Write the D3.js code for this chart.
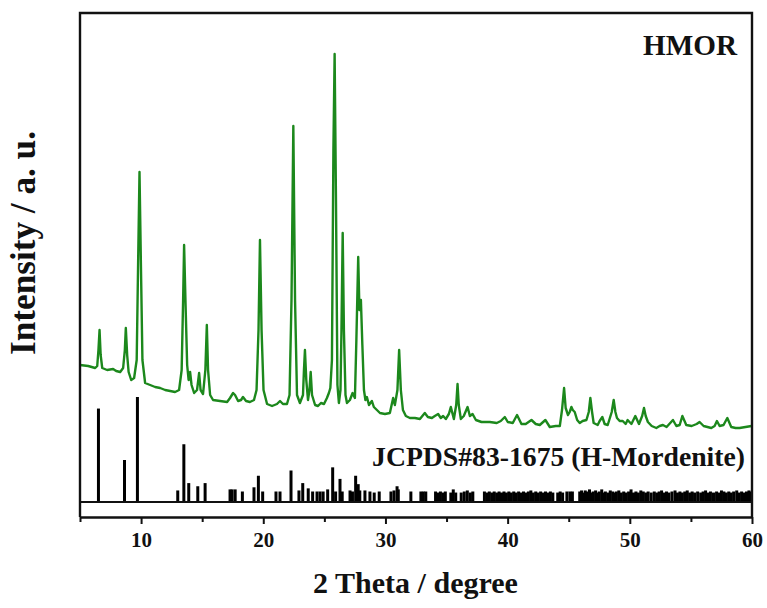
<!DOCTYPE html>
<html>
<head>
<meta charset="utf-8">
<script src="https://cdn.jsdelivr.net/npm/d3@7"></script>
<style>
  html, body { margin: 0; padding: 0; background: #fff; }
  svg { display: block; }
  text { font-family: "Liberation Serif", "Times New Roman", "DejaVu Serif", serif; font-weight: bold; fill: #111; }
</style>
</head>
<body>
<svg id="chart" width="767" height="608"></svg>
<script>
// ---- data ----
// measured XRD pattern: 2θ (degree) and intensity (a.u.)
const twoTheta = [5.0,5.67,6.24,6.41,6.51,6.6,6.69,6.82,7.22,7.71,7.96,8.29,8.53,8.67,8.75,8.86,8.98,9.19,9.43,9.64,9.76,9.87,9.98,10.11,10.33,10.74,11.15,11.56,11.97,12.38,12.78,13.11,13.32,13.44,13.52,13.63,13.77,13.89,14.01,14.13,14.34,14.58,14.75,14.87,15.07,15.26,15.38,15.48,15.65,15.89,16.46,17.04,17.28,17.53,17.69,17.94,18.18,18.34,18.59,18.91,19.24,19.45,19.61,19.73,19.86,20.02,20.31,20.72,21.12,21.37,21.61,21.94,22.15,22.31,22.46,22.6,22.76,23.0,23.25,23.33,23.41,23.52,23.66,23.78,23.88,23.99,24.24,24.48,24.72,24.97,25.21,25.37,25.49,25.62,25.74,25.84,25.95,26.07,26.19,26.32,26.4,26.5,26.6,26.73,26.85,27.09,27.31,27.5,27.62,27.77,27.87,27.99,28.11,28.24,28.36,28.48,28.65,28.89,29.05,29.3,29.55,29.96,30.36,30.63,30.77,30.98,31.12,31.26,31.43,31.67,32.0,32.41,32.82,33.22,33.47,33.8,34.04,34.31,34.53,34.72,34.94,35.19,35.35,35.6,35.79,35.9,36.0,36.17,36.41,36.72,36.91,37.13,37.4,37.86,38.54,39.11,39.44,39.77,40.01,40.42,40.77,41.13,41.48,41.95,42.3,42.63,43.09,43.45,43.94,44.27,44.45,44.62,44.75,44.94,45.08,45.22,45.33,45.49,45.69,45.9,46.14,46.45,46.64,46.77,46.91,47.04,47.37,47.53,47.75,47.94,48.19,48.52,48.68,48.82,48.95,49.17,49.42,49.66,49.82,50.13,50.45,50.75,51.01,51.16,51.3,51.48,51.79,52.17,52.44,52.71,53.01,53.53,53.81,54.08,54.3,54.62,55.06,55.47,55.71,56.04,56.67,56.94,57.13,57.35,57.67,57.98,58.3,58.66,58.98,59.47,59.96];
const intensity = [152,151,149,151,167,187,162,149,147,148,146,145,149,167,189,162,145,137,139,157,257,345,257,157,134,132,130,129,127,126,125,127,147,217,272,217,152,137,145,132,124,127,144,127,123,147,192,147,122,117,116,115,119,124,122,116,117,120,116,115,117,127,187,277,187,127,113,111,113,116,113,113,122,217,391,217,122,114,122,147,167,137,117,127,145,122,112,111,114,113,119,124,129,157,367,463,317,132,114,127,187,284,187,122,114,117,124,119,177,260,207,217,172,127,117,120,112,116,110,107,104,103,104,119,112,127,167,127,107,101,99,99,98,104,100,99,101,103,99,101,98,103,110,98,112,133,112,98,101,110,101,103,97,95,95,94,96,100,95,94,102,93,93,97,93,92,97,90,91,91,107,129,109,102,105,110,107,105,97,94,96,97,105,119,105,94,92,96,100,93,92,105,117,105,99,96,96,93,97,93,101,93,101,109,101,95,91,89,91,92,90,97,91,92,101,92,91,93,95,91,89,91,96,91,92,99,90,89,89,90,91];

// reference stick pattern JCPDS#83-1675: 2θ and relative intensity (%)
const refTheta = [6.51,8.64,9.70,13.0,13.5,13.9,14.64,15.24,17.28,17.45,17.7,18.29,19.24,19.6,19.95,21.04,21.37,22.27,22.92,23.23,23.68,24.04,24.4,24.65,24.9,25.27,25.68,25.92,26.28,26.46,27.1,27.3,27.56,27.77,27.9,28.32,28.73,29.08,29.49,30.45,30.7,30.95,31.05,32.08,32.9,33.1,33.3,34.1,34.3,34.5,34.7,34.9,35.35,35.55,35.75,36.2,36.45,36.7,36.95,37.15,38.1,38.3,38.5,38.7,38.9,39.1,39.3,39.5,39.7,39.9,40.1,40.3,40.5,40.7,40.9,41.1,41.3,41.5,41.7,41.9,42.1,42.3,42.5,42.7,42.9,43.1,43.3,43.5,43.7,44.1,44.3,44.5,44.85,45.1,45.3,45.9,46.05,46.2,46.35,46.5,46.7,46.85,47.0,47.2,47.35,47.5,47.7,47.85,48.0,48.2,48.4,48.6,48.75,48.9,49.1,49.3,49.5,49.7,49.9,50.1,50.3,50.5,50.7,50.9,51.1,51.3,51.5,51.75,52.0,52.2,52.4,52.6,52.8,53.0,53.2,53.45,53.7,53.9,54.1,54.3,54.5,54.7,54.9,55.1,55.3,55.55,55.8,56.0,56.2,56.4,56.6,56.85,57.1,57.3,57.5,57.7,57.9,58.1,58.3,58.5,58.75,58.95,59.15,59.35,59.55,59.75,59.95];
const refIntensity = [89,40,100,11,55,18,15,18,12,12,12,10,14,25,10,10,10,30,11,18,13,10,10,10,10,12,33,10,22,10,11,10,25,17,11,11,10,9,10,10,11,15,12,10,10,10,10,10,9,10,9,10,9,12,9,9,10,11,9,10,10,9,10,9,10,9,10,9,10,9,10,9,10,9,10,9,10,9,10,11,9,10,9,10,9,10,9,10,9,9,10,9,10,10,10,10,11,9,11,10,12,9,10,11,9,10,12,9,10,9,11,10,9,10,11,9,10,9,10,12,9,10,9,11,10,9,10,9,10,9,10,11,9,10,9,10,11,9,10,9,10,11,9,10,9,10,9,10,11,9,10,9,10,9,11,10,9,10,9,10,11,9,10,9,10,11,10];

const majorTicks = [10, 20, 30, 40, 50, 60];
const minorTicks = [5, 15, 25, 35, 45, 55];
const xTitle = "2 Theta / degree";
const yTitle = "Intensity / a. u.";
const sampleLabel = "HMOR";
const refLabel = "JCPDS#83-1675 (H-Mordenite)";

// ---- drawing ----
(function draw() {
const svg = d3.select("#chart");
const mLeft = 80, mRight = 752, mTop = 13, mBottom = 517, stickBase = 502;
const green = "#1c881c";

const x = d3.scaleLinear().domain([5, 60]).range([mLeft, mRight]);
const y = d3.scaleLinear().domain([0, 504]).range([mBottom, mTop]);
const yRef = d3.scaleLinear().domain([0, 100]).range([stickBase, 397]);

const pattern = twoTheta.map((t, i) => [t, intensity[i]]);
const sticks = refTheta.map((t, i) => [t, refIntensity[i]]);

// sticks
svg.append("g").selectAll("line").data(sticks).join("line")
  .attr("x1", d => x(d[0])).attr("x2", d => x(d[0]))
  .attr("y1", stickBase).attr("y2", d => yRef(d[1]))
  .attr("stroke", "#000").attr("stroke-width", 3);

// stick baseline
svg.append("line").attr("x1", mLeft).attr("x2", mRight)
  .attr("y1", stickBase).attr("y2", stickBase)
  .attr("stroke", "#111").attr("stroke-width", 1.8);

// XRD curve
svg.append("path").datum(pattern)
  .attr("fill", "none").attr("stroke", green).attr("stroke-width", 2.4)
  .attr("stroke-linejoin", "round")
  .attr("d", d3.line().x(d => x(d[0])).y(d => y(d[1])));

// frame
svg.append("path")
  .attr("d", `M${mLeft},${mBottom}V${mTop}H${mRight}V${mBottom}`)
  .attr("fill", "none").attr("stroke", "#111").attr("stroke-width", 2.4);

// x axis
const gx = svg.append("g").attr("transform", `translate(0,${mBottom})`);
gx.call(d3.axisBottom(x).tickValues(majorTicks).tickSize(7).tickSizeOuter(0).tickPadding(8).tickFormat(d3.format("d")));
gx.select(".domain").attr("stroke", "#111").attr("stroke-width", 2.4);
gx.selectAll(".tick line").attr("stroke", "#111").attr("stroke-width", 2);
gx.selectAll(".tick text").attr("font-size", 21).attr("fill", "#111")
  .style("font-family", "'Liberation Serif', 'Times New Roman', serif").style("font-weight", "bold");
const gm = svg.append("g").attr("transform", `translate(0,${mBottom})`);
gm.call(d3.axisBottom(x).tickValues(minorTicks).tickSize(5).tickSizeOuter(0).tickFormat(""));
gm.select(".domain").remove();
gm.selectAll(".tick line").attr("stroke", "#111").attr("stroke-width", 2);

// text with width fitting
function fitText(sel, target) {
  const fs = +sel.attr("font-size");
  const w = sel.node().getComputedTextLength();
  if (w > 0) sel.attr("font-size", (fs * target / w).toFixed(2));
}

const xt = svg.append("text").attr("x", 415.5).attr("y", 593)
  .attr("text-anchor", "middle").attr("font-size", 28).text(xTitle);
fitText(xt, 205);

const yt = svg.append("text").attr("transform", "translate(35,243) rotate(-90)")
  .attr("text-anchor", "middle").attr("font-size", 28).text(yTitle);
fitText(yt, 224);

const hl = svg.append("text").attr("x", 737).attr("y", 55)
  .attr("text-anchor", "end").attr("font-size", 26).text(sampleLabel);
fitText(hl, 94);

const rl = svg.append("text").attr("x", 745).attr("y", 466)
  .attr("text-anchor", "end").attr("font-size", 26).text(refLabel);
fitText(rl, 373);
})();
</script>
</body>
</html>
